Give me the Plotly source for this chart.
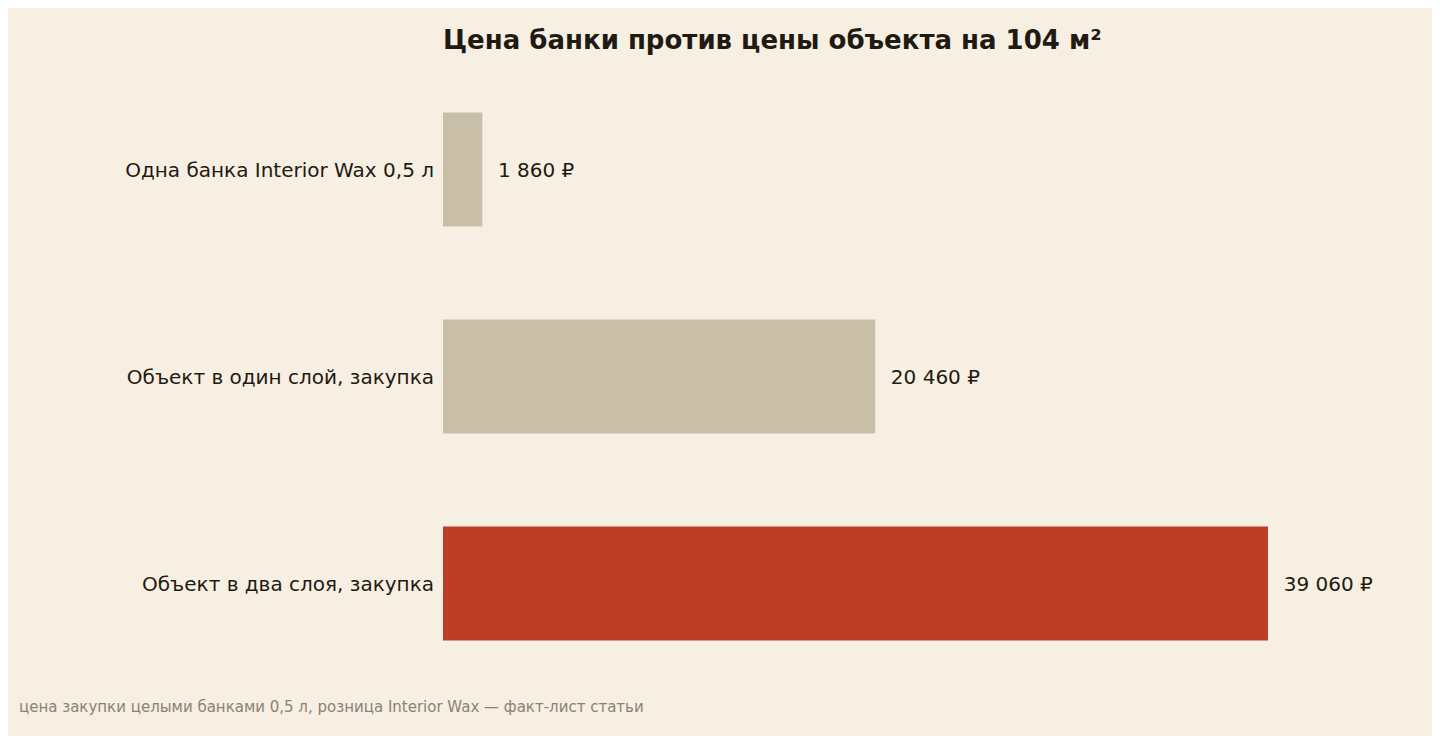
import plotly.graph_objects as go

categories = ["Одна банка Interior Wax 0,5 л", "Объект в один слой, закупка", "Объект в два слоя, закупка"]
values = [1860, 20460, 39060]
labels = ["1 860 ₽", "20 460 ₽", "39 060 ₽"]
colors = ["#c9bfa8", "#c9bfa8", "#bd3d27"]

fig = go.Figure(go.Bar(
    y=categories, x=values, orientation="h",
    marker=dict(color=colors, line=dict(width=0)),
    text=["\u00a0\u00a0" + t for t in labels], textposition="outside",
    textfont=dict(size=20, color="#1f1a12"),
    width=0.55, cliponaxis=False,
))

fig.update_layout(
    width=1440, height=736,
    paper_bgcolor="#f6efe2", plot_bgcolor="#f6efe2",
    font=dict(family="DejaVu Sans, sans-serif", color="#1f1a12"),
    margin=dict(l=435, r=56, t=58, b=57),
    title=dict(text="<b>Цена банки против цены объекта на 104 м²</b>",
               x=435/1440, xanchor="left", y=1 - 32/736, yanchor="middle",
               font=dict(size=26, color="#1f1a12")),
    xaxis=dict(visible=False, range=[0, 39060 * 949 / 825]),
    yaxis=dict(autorange="reversed", tickfont=dict(size=20, color="#1f1a12"),
               ticks="", ticklabelstandoff=8, showgrid=False),
    showlegend=False,
    annotations=[dict(text="цена закупки целыми банками 0,5 л, розница Interior Wax — факт-лист статьи",
                      xref="paper", yref="paper", x=-426/949, y=-20/621,
                      xanchor="left", yanchor="middle", showarrow=False,
                      font=dict(size=15, color="#8a8275"))],
)

fig.write_html("out.html")
